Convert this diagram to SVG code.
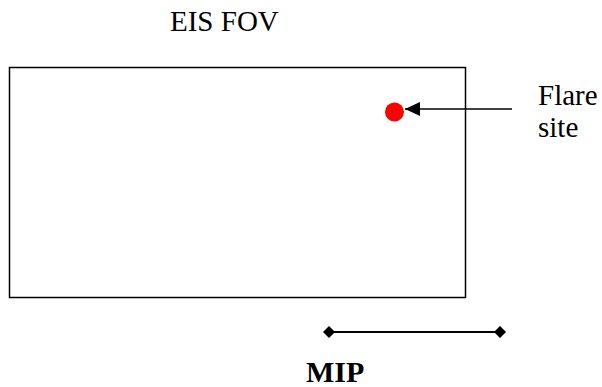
<svg xmlns="http://www.w3.org/2000/svg" width="602" height="387" viewBox="0 0 602 387">
<style>
text{font-family:'Liberation Serif','DejaVu Serif',serif;font-size:29px;fill:#000}
.b{font-weight:bold;font-size:30px}
.ln{stroke:#000;stroke-width:1.5;fill:none}
</style>
<defs>
<marker id="ah" markerWidth="16" markerHeight="14" refX="15" refY="7" orient="auto" markerUnits="userSpaceOnUse">
<path d="M0,0 L15,7 L0,14 Z" fill="#000"/>
</marker>
<marker id="dm" markerWidth="12" markerHeight="12" refX="6" refY="6" orient="auto" markerUnits="userSpaceOnUse">
<path d="M0,6 L6,0 L12,6 L6,12 Z" fill="#000"/>
</marker>
</defs>
<rect width="602" height="387" fill="#fff"/>
<g id="fov">
<rect class="ln" x="9.5" y="67.5" width="456" height="230"/>
<text x="170" y="31">EIS FOV</text>
</g>
<g id="flare">
<circle cx="394.5" cy="112" r="9.5" fill="#f00"/>
</g>
<g id="flare-label">
<text x="538" y="105">Flare</text>
<text x="538" y="137">site</text>
</g>
<g id="mip">
<text class="b" x="306" y="382">MIP</text>
</g>
<g id="connectors">
<line class="ln" x1="512" y1="109" x2="405" y2="109" marker-end="url(#ah)"/>
<line x1="329" y1="332" x2="500" y2="332" stroke="#000" stroke-width="2" marker-start="url(#dm)" marker-end="url(#dm)"/>
</g>
</svg>
